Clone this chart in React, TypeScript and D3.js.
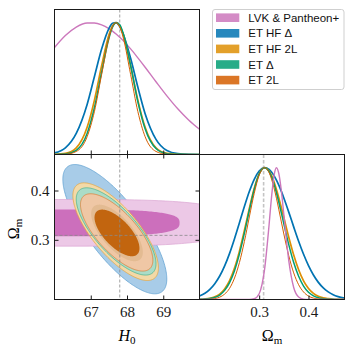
import React, { useEffect, useRef } from "react";
import * as d3 from "d3";

// ---- 1. Data ----//

const legendLabels = ["LVK & Pantheon+", "ET HF Δ", "ET HF 2L", "ET Δ", "ET 2L"];
const seriesColors = ["#cc78bc", "#0173b2", "#de8f05", "#029e73", "#d55e00"];

const truthH0 = 67.8;
const truthOm = 0.309;

const h0Domain = [66, 70];
const omDomain = [0.179, 0.473];
const h0Ticks = [67, 68, 69];
const omTicks = [0.3, 0.4];

// 1D marginal of H0 (normalised to peak 1)
const h0Grid = [66.0, 66.3, 66.6, 66.9, 67.1, 67.3, 67.5, 67.6, 67.7, 67.8, 67.9, 68.1, 68.3, 68.5, 68.8, 69.1, 69.4, 69.7, 70.0];
const h0Lvk = [0.812, 0.903, 0.967, 0.998, 0.998, 0.984, 0.955, 0.936, 0.914, 0.889, 0.862, 0.801, 0.733, 0.662, 0.552, 0.445, 0.347, 0.262, 0.191];
const h0EtHfDelta = [0.012, 0.05, 0.16, 0.38, 0.59, 0.8, 0.955, 0.995, 1, 0.97, 0.91, 0.73, 0.51, 0.31, 0.115, 0.03, 0.006, 0.001, 0];
const h0EtHf2L = [0.001, 0.008, 0.05, 0.206, 0.411, 0.674, 0.906, 0.976, 1, 0.976, 0.906, 0.674, 0.411, 0.206, 0.05, 0.008, 0.001, 0, 0];
const h0EtDelta = [0, 0.004, 0.032, 0.16, 0.355, 0.625, 0.88, 0.965, 1, 0.985, 0.915, 0.675, 0.4, 0.195, 0.045, 0.006, 0.001, 0, 0];
const h0Et2L = [0, 0.002, 0.023, 0.135, 0.325, 0.607, 0.882, 0.969, 1, 0.969, 0.882, 0.607, 0.325, 0.135, 0.023, 0.002, 0, 0, 0];

// 1D marginal of Omega_m (normalised to peak 1)
const omGrid = [0.179, 0.19, 0.2, 0.21, 0.22, 0.23, 0.24, 0.25, 0.26, 0.27, 0.28, 0.29, 0.3, 0.311, 0.32, 0.325, 0.33, 0.335, 0.34, 0.345, 0.35, 0.36, 0.37, 0.38, 0.39, 0.4, 0.41, 0.42, 0.43, 0.44, 0.45, 0.46, 0.473];
const omLvk = [0, 0, 0, 0, 0, 0, 0, 0, 0, 0, 0, 0.006, 0.044, 0.23, 0.563, 0.775, 0.938, 1, 0.952, 0.823, 0.644, 0.295, 0.091, 0.019, 0.003, 0, 0, 0, 0, 0, 0, 0, 0];
const omEtHfDelta = [0.027, 0.047, 0.077, 0.12, 0.178, 0.255, 0.35, 0.461, 0.582, 0.705, 0.819, 0.912, 0.975, 1, 0.986, 0.967, 0.94, 0.906, 0.866, 0.82, 0.77, 0.663, 0.551, 0.442, 0.343, 0.257, 0.186, 0.13, 0.088, 0.058, 0.036, 0.022, 0.011];
const omEtHf2L = [0.001, 0.004, 0.009, 0.02, 0.041, 0.08, 0.143, 0.238, 0.367, 0.523, 0.69, 0.844, 0.954, 1, 0.975, 0.941, 0.893, 0.835, 0.769, 0.697, 0.622, 0.472, 0.337, 0.226, 0.142, 0.084, 0.047, 0.024, 0.012, 0.006, 0.002, 0.001, 0];
const omEtDelta = [0.001, 0.003, 0.007, 0.016, 0.034, 0.069, 0.128, 0.219, 0.346, 0.504, 0.676, 0.835, 0.952, 1, 0.971, 0.931, 0.877, 0.81, 0.736, 0.656, 0.574, 0.416, 0.28, 0.176, 0.102, 0.055, 0.028, 0.013, 0.006, 0.002, 0.001, 0, 0];
const omEt2L = [0, 0.001, 0.002, 0.007, 0.018, 0.041, 0.085, 0.163, 0.281, 0.44, 0.626, 0.806, 0.943, 1, 0.964, 0.914, 0.847, 0.768, 0.68, 0.588, 0.497, 0.332, 0.202, 0.112, 0.057, 0.026, 0.011, 0.004, 0.002, 0, 0, 0, 0];

const h0Series = [h0Lvk, h0EtHfDelta, h0EtHf2L, h0EtDelta, h0Et2L];
const omSeries = [omLvk, omEtHfDelta, omEtHf2L, omEtDelta, omEt2L];

// 2D credible regions, in drawing order (centre, half extents, correlation, shape exponent)
const contourSeries = [1, 0, 0, 2, 3, 4, 2, 4];
const contourLevel = [95, 95, 68, 95, 95, 95, 68, 68];
const contourH0 = [67.664, 66.5, 66.5, 67.687, 67.7, 67.715, 67.724, 67.724];
const contourOm = [0.3216, 0.3345, 0.3344, 0.3165, 0.317, 0.315, 0.314, 0.314];
const contourH0Half = [1.434, 4.5, 2.95, 1.18, 1.1, 0.998, 0.713, 0.62];
const contourOmHalf = [0.1311, 0.0473, 0.0271, 0.099, 0.0885, 0.0784, 0.0574, 0.0473];
const contourRho = [-0.77, 0, 0, -0.74, -0.74, -0.72, -0.68, -0.66];
const contourShape = [2, 3, 3, 2, 2, 2, 2, 2];

// fill / edge colours of the regions above
const contourFill = ["#a8cce8", "#ecc8e6", "#cc6fbc", "#f3d9a7", "#abdcc7", "#efc7a5", "#e3bb92", "#c2650f"];
const contourEdge = ["#5a9ed0", "#dba6d3", "none", "#e5a33a", "#40b08c", "#dc7a30", "none", "none"];

function App() {
  const ref = useRef<SVGSVGElement | null>(null);

  useEffect(() => {
    drawChart();
  }, []);

  const drawChart = () => {
    const svg = d3.select(ref.current);
    svg.selectAll("*").remove();

    // ---- 2. Dimensions ----//
    const size = 145;
    const x0 = 54.5, x1 = x0 + size, x2 = x1 + size;
    const y0 = 9.5, y1 = y0 + size, y2 = y1 + size;
    const serif = "'Liberation Serif', 'DejaVu Serif', serif";

    // ---- 3. Scales ----//
    const xH0 = d3.scaleLinear().domain(h0Domain).range([x0, x1]);
    const yOm = d3.scaleLinear().domain(omDomain).range([y2, y1]);
    const xOm = d3.scaleLinear().domain(omDomain).range([x1, x2]);
    const yTop = d3.scaleLinear().domain([0, 1.1]).range([y1, y0]);
    const yRight = d3.scaleLinear().domain([0, 1.1]).range([y2, y1]);

    const defs = svg.append("defs");
    const clip = (id: string, x: number, y: number) =>
      defs.append("clipPath").attr("id", id).append("rect")
        .attr("x", x).attr("y", y).attr("width", size).attr("height", size);
    clip("clip-tl", x0, y0);
    clip("clip-bl", x0, y1);
    clip("clip-br", x1, y1);

    const dashed = (g: any, xa: number, ya: number, xb: number, yb: number, light = false) =>
      g.append("line")
        .attr("x1", xa).attr("y1", ya).attr("x2", xb).attr("y2", yb)
        .attr("stroke", light ? "#c4c4c4" : "#8a8a8a")
        .attr("stroke-width", light ? 1.6 : 0.8)
        .attr("stroke-dasharray", light ? "3.5,2" : "3,2");

    // ---- 4. Top-left: H0 marginal ----//
    const tl = svg.append("g").attr("clip-path", "url(#clip-tl)");
    dashed(tl, xH0(truthH0), y0, xH0(truthH0), y1);
    const lineWidths = [1.4, 1.7, 1.7, 1.5, 1.0];
    h0Series.forEach((vals, i) => {
      const line = d3.line<number>()
        .x((_, k) => xH0(h0Grid[k]))
        .y((d) => yTop(d))
        .curve(d3.curveMonotoneX);
      tl.append("path")
        .attr("d", line(vals))
        .attr("fill", "none")
        .attr("stroke", seriesColors[i])
        .attr("stroke-width", lineWidths[i]);
    });

    // ---- 5. Bottom-left: 2D contours ----//
    const bl = svg.append("g").attr("clip-path", "url(#clip-bl)");
    contourH0.forEach((cx, i) => {
      const p = contourShape[i];
      const rho = contourRho[i];
      const pts = d3.range(240).map((k) => {
        const t = (k / 240) * 2 * Math.PI;
        const c = Math.cos(t), s = Math.sin(t);
        const u = Math.sign(c) * Math.pow(Math.abs(c), 2 / p);
        const v = Math.sign(s) * Math.pow(Math.abs(s), 2 / p);
        const h0 = cx + contourH0Half[i] * u;
        const om = contourOm[i] + contourOmHalf[i] * (rho * u + Math.sqrt(1 - rho * rho) * v);
        return [xH0(h0), yOm(om)] as [number, number];
      });
      bl.append("path")
        .attr("d", d3.line().curve(d3.curveLinearClosed)(pts))
        .attr("fill", contourFill[i])
        .attr("stroke", contourEdge[i])
        .attr("stroke-width", 0.7)
        .attr("data-series", legendLabels[contourSeries[i]])
        .attr("data-level", contourLevel[i]);
    });
    dashed(bl, xH0(truthH0), y1, xH0(truthH0), y2);
    dashed(bl, x0, yOm(truthOm), x1, yOm(truthOm));

    // ---- 6. Bottom-right: Omega_m marginal ----//
    const br = svg.append("g").attr("clip-path", "url(#clip-br)");
    dashed(br, xOm(truthOm), y1, xOm(truthOm), y2, true);
    const omOrder = [1, 2, 3, 4, 0];
    omOrder.forEach((i) => {
      const line = d3.line<number>()
        .x((_, k) => xOm(omGrid[k]))
        .y((d) => yRight(d))
        .curve(d3.curveMonotoneX);
      br.append("path")
        .attr("d", line(omSeries[i]))
        .attr("fill", "none")
        .attr("stroke", seriesColors[i])
        .attr("stroke-width", lineWidths[i]);
    });

    // ---- 7. Axes and frames ----//
    const styleAxis = (g: any) => {
      g.select(".domain").remove();
      g.attr("color", "#1a1a1a").attr("font-family", serif).attr("font-size", 15);
      g.selectAll("line").attr("stroke-width", 1);
    };
    const noLabel = () => "";

    svg.append("g").attr("transform", `translate(0,${y1})`)
      .call(d3.axisBottom(xH0).tickValues(h0Ticks).tickSize(-4).tickSizeOuter(0).tickFormat(noLabel))
      .call(styleAxis);
    svg.append("g").attr("transform", `translate(0,${y1})`)
      .call(d3.axisTop(xH0).tickValues(h0Ticks).tickSize(-4).tickSizeOuter(0).tickFormat(noLabel))
      .call(styleAxis);
    svg.append("g").attr("transform", `translate(0,${y2})`)
      .call(d3.axisBottom(xH0).tickValues(h0Ticks).tickSize(-4).tickSizeOuter(0).tickPadding(6.4).tickFormat(d3.format("d")))
      .call(styleAxis);
    svg.append("g").attr("transform", `translate(${x0},0)`)
      .call(d3.axisLeft(yOm).tickValues(omTicks).tickSize(-4).tickSizeOuter(0).tickPadding(5).tickFormat(d3.format(".1f")))
      .call(styleAxis);
    svg.append("g").attr("transform", `translate(${x1},0)`)
      .call(d3.axisRight(yOm).tickValues(omTicks).tickSize(-4).tickSizeOuter(0).tickFormat(noLabel))
      .call(styleAxis);
    svg.append("g").attr("transform", `translate(0,${y2})`)
      .call(d3.axisBottom(xOm).tickValues(omTicks).tickSize(-4).tickSizeOuter(0).tickPadding(6.4).tickFormat(d3.format(".1f")))
      .call(styleAxis);

    const frames = [[x0, y0], [x0, y1], [x1, y1]];
    frames.forEach(([fx, fy]) => {
      svg.append("rect")
        .attr("x", fx).attr("y", fy).attr("width", size).attr("height", size)
        .attr("fill", "none").attr("stroke", "#1a1a1a").attr("stroke-width", 1);
    });

    // axis labels
    const h0Label = svg.append("text")
      .attr("x", (x0 + x1) / 2).attr("y", 341)
      .attr("text-anchor", "middle").attr("font-family", serif).attr("font-size", 16);
    h0Label.append("tspan").attr("font-style", "italic").text("H");
    h0Label.append("tspan").attr("font-size", 11).attr("dy", 3).text("0");

    const omLabel = (g: any) => {
      g.append("tspan").text("Ω");
      g.append("tspan").attr("font-size", 11).attr("dy", 3).text("m");
    };
    svg.append("text")
      .attr("x", (x1 + x2) / 2).attr("y", 341)
      .attr("text-anchor", "middle").attr("font-family", serif).attr("font-size", 16)
      .call(omLabel);
    svg.append("text")
      .attr("transform", `translate(19,${(y1 + y2) / 2 + 2}) rotate(-90)`)
      .attr("text-anchor", "middle").attr("font-family", serif).attr("font-size", 16)
      .call(omLabel);

    // ---- 8. Legend ----//
    const legend = svg.append("g");
    legend.append("rect")
      .attr("x", 212.5).attr("y", 9.5).attr("width", 131.5).attr("height", 80)
      .attr("rx", 2.5).attr("fill", "#fff").attr("stroke", "#cfcfcf").attr("stroke-width", 1);
    legendLabels.forEach((label, i) => {
      const cy = 17.7 + i * 15.6;
      legend.append("rect")
        .attr("x", 216).attr("y", cy - 4.3).attr("width", 23.3).attr("height", 8.6)
        .attr("fill", seriesColors[i]).attr("fill-opacity", 0.85);
      legend.append("text")
        .attr("x", 248.3).attr("y", cy + 4.1)
        .attr("font-family", "'Liberation Sans', Arial, sans-serif").attr("font-size", 11.5)
        .attr("fill", "#111")
        .text(label);
    });
  };

  return (
    <svg
      ref={ref}
      width={354}
      height={354}
      style={{ position: "absolute", left: 0, top: 0, background: "#fff" }}
    />
  );
}

export default App;
